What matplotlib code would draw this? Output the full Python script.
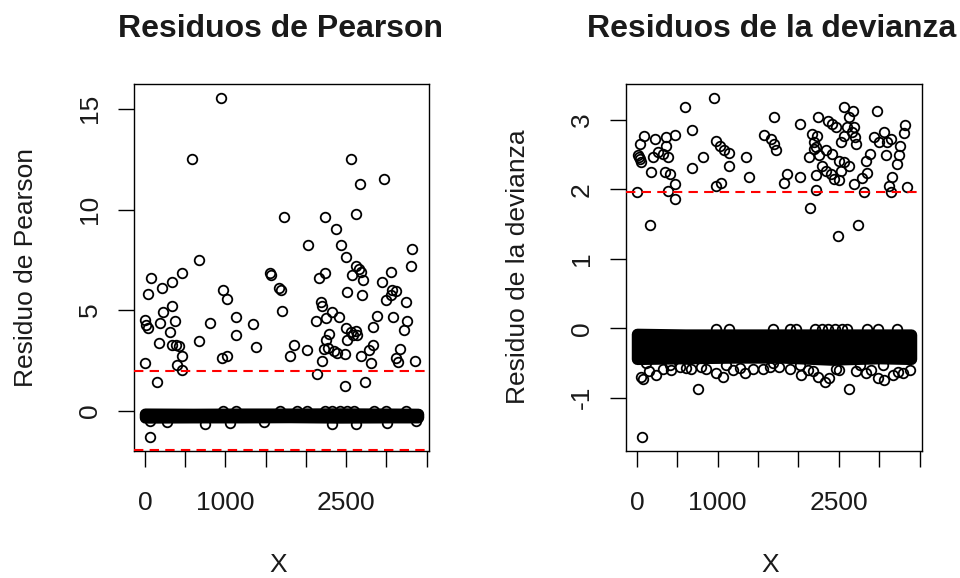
import numpy as np
import matplotlib as mpl
mpl.use('Agg')
import matplotlib.pyplot as plt

plt.rcParams['font.family'] = ['Liberation Sans', 'DejaVu Sans']

# ---- data ----
# Pearson residuals: points outside the dense band (observation index, residual)
pear_x = [942, 587, 2566, 2975, 2674, 2624, 1723, 2240, 2380, 2029, 2434, 3322, 674, 2496,
          2620, 2661, 3302, 3054, 2570, 2682, 2711, 1554, 1566, 459, 74, 343, 2240, 2165,
          2950, 211, 967, 1665, 1690, 2517, 2702, 3074, 3116, 3054, 3000, 45, 1025, 3240,
          2186, 2207, 343, 1698, 2322, 231, 1132, 2413, 2888, 3087, 2248, 2132, 3252, 5,
          17, 45, 376, 190, 810, 1347, 2835, 3219, 2496, 2558, 2620, 2587, 2632, 2517, 314,
          1132, 2289, 674, 182, 335, 384, 426, 1380, 1855, 2839, 2785, 2248, 2227, 2281,
          2351, 2393, 2021, 3165, 1802, 2488, 2682, 459, 963, 1025, 2207, 3116, 3145, 2806,
          3351, 8, 397, 459, 2136, 149, 2731, 2488, 58]
pear_y = [15.56, 12.50, 12.50, 11.52, 11.29, 9.77, 9.65, 9.65, 9.01, 8.25, 8.25, 8.03, 7.50, 7.63,
          7.20, 7.04, 7.17, 6.92, 6.75, 6.92, 6.51, 6.84, 6.75, 6.84, 6.62, 6.39, 6.84, 6.62,
          6.42, 6.09, 6.01, 6.09, 6.01, 5.88, 5.76, 6.01, 5.93, 5.76, 5.51, 5.79, 5.55, 5.43,
          5.43, 5.22, 5.23, 4.98, 4.93, 4.90, 4.65, 4.65, 4.69, 4.65, 4.60, 4.47, 4.47, 4.52,
          4.27, 4.11, 4.47, 4.35, 4.35, 4.32, 4.14, 4.02, 4.11, 3.94, 3.99, 3.77, 3.77, 3.53, 3.91,
          3.77, 3.81, 3.49, 3.36, 3.28, 3.28, 3.23, 3.16, 3.28, 3.28, 3.03, 3.53, 3.06, 3.11,
          2.95, 2.86, 3.03, 3.06, 2.70, 2.81, 2.73, 2.70, 2.62, 2.70, 2.50, 2.62, 2.45, 2.40,
          2.50, 2.40, 2.28, 2.04, 1.84, 1.41, 1.41, 1.21, -1.32]
# points sticking out of the band (above / below)
pear_edge_x = [968, 1130, 1678, 1889, 2013, 2240, 2330, 2420, 2510, 2600, 2848, 2998, 3248,
               67, 270, 752, 1063, 1478, 2325, 2620, 3010, 3367]
pear_edge_y = [0.0, 0.0, 0.0, 0.0, 0.0, 0.0, 0.0, 0.0, 0.0, 0.0, 0.0, 0.0, 0.0,
               -0.52, -0.53, -0.66, -0.60, -0.53, -0.66, -0.66, -0.60, -0.50]

# deviance residuals: points outside the dense band
dev_x = [949, 598, 681, 83, 219, 355, 466, 41, 363, 260, 198, 322, 384, 177, 343, 404, 466,
         384, 466, 5, 165, 10, 22, 34, 46, 817, 681, 974, 1032, 1085, 1139, 1139, 1354, 1387,
         982, 1036, 1568, 1663, 1704, 1725, 1704, 2026, 2245, 2571, 2679, 2625, 2976, 3326,
         3306, 2369, 2418, 2460, 2171, 2233, 2192, 2212, 2604, 2666, 2707, 2716, 2522, 2563,
         2934, 2996, 3066, 3099, 3141, 3256, 3244, 3223, 3079, 2893, 2839, 2852, 2790, 3161,
         2687, 2811, 3120, 3141, 3347, 1861, 1820, 2026, 2212, 2138, 2736, 2493, 2130, 2253,
         2192, 2336, 2418, 2501, 2563, 2625, 2295, 2336, 2398, 2439, 2501, 2522, 2212, 2687,
         74, 763, 2621, 58]
dev_y = [3.32, 3.19, 2.85, 2.77, 2.73, 2.75, 2.78, 2.65, 2.63, 2.53, 2.46, 2.51, 2.46, 2.25, 2.25,
         2.22, 2.08, 1.97, 1.86, 1.96, 1.49, 2.49, 2.46, 2.43, 2.40, 2.47, 2.31, 2.69, 2.63, 2.57,
         2.52, 2.34, 2.46, 2.18, 2.05, 2.09, 2.78, 2.73, 2.65, 2.56, 3.04, 2.94, 3.04, 3.19, 3.13,
         3.04, 3.13, 2.92, 2.81, 2.98, 2.94, 2.90, 2.80, 2.77, 2.68, 2.61, 2.89, 2.82, 2.75, 2.65,
         2.68, 2.77, 2.75, 2.68, 2.82, 2.68, 2.73, 2.63, 2.49, 2.37, 2.50, 2.51, 2.41, 2.23, 2.17,
         2.18, 2.08, 1.96, 2.05, 1.96, 2.03, 2.22, 2.09, 2.18, 1.99, 1.73, 1.49, 1.33, 2.46, 2.49,
         2.58, 2.56, 2.51, 2.41, 2.39, 2.34, 2.34, 2.27, 2.22, 2.15, 2.13, 2.26, 2.20, 2.89,
         -0.73, -0.88, -0.88, -1.57]
dev_edge_x = [981, 1146, 1683, 1897, 1972, 2207, 2290, 2372, 2455, 2537, 2599, 2847, 2990, 3218,
              54, 239, 322, 528, 673, 858, 982, 1065, 1189, 1333, 1436, 1560, 1766, 1890, 2035,
              2117, 2241, 2324, 2385, 2509, 2716, 2839, 2984, 3066, 3170, 3293, 3376, 115, 404,
              1106, 1684, 2014, 2757, 3046, 150, 420, 610, 790, 1280, 1650, 2180, 2470, 2900,
              3230]
dev_edge_y = [-0.01, -0.01, -0.01, -0.01, -0.01, -0.01, -0.01, -0.01, -0.01, -0.01, -0.01, -0.01,
              -0.01, -0.01,
              -0.70, -0.67, -0.58, -0.55, -0.58, -0.58, -0.65, -0.70, -0.60, -0.65, -0.58, -0.58,
              -0.55, -0.58, -0.67, -0.60, -0.70, -0.77, -0.72, -0.60, -0.62, -0.65, -0.72, -0.74,
              -0.67, -0.65, -0.60, -0.50, -0.53, -0.53, -0.50, -0.53, -0.53, -0.53, -0.62, -0.60,
              -0.57, -0.56, -0.57, -0.55, -0.62, -0.58, -0.60, -0.63]

# the dense band of y = 0 observations: outline of the point centres
band_x = [1, 600, 1200, 1800, 2400, 3000, 3395]
pear_band_top = [-0.14, -0.15, -0.14, -0.14, -0.13, -0.14, -0.15]
pear_band_bot = [-0.33, -0.32, -0.32, -0.31, -0.33, -0.32, -0.32]
dev_band_top = [-0.08, -0.09, -0.09, -0.09, -0.09, -0.09, -0.09]
dev_band_bot = [-0.44, -0.43, -0.42, -0.42, -0.45, -0.43, -0.44]

x_ticks = [0, 500, 1000, 1500, 2000, 2500, 3000, 3500]
x_labels = ['0', '', '1000', '', '', '2500', '', '']


def draw_panel(ax, px, py, ex, ey, top, bot, hlines, yticks):
    ax.fill_between(band_x, bot, top, facecolor='black', edgecolor='black',
                    linewidth=8.2, joinstyle='round')
    ax.plot(px, py, 'o', mfc='none', mec='black', ms=6.9, mew=1.3)
    ax.plot(ex, ey, 'o', mfc='none', mec='black', ms=6.9, mew=1.3)
    for h in hlines:
        ax.axhline(h, color='red', lw=1.5, dashes=(4.5, 3), zorder=5)
    xs = px + ex + band_x
    ys = py + ey + top + bot
    dx = 0.04 * (max(xs) - min(xs))
    dy = 0.04 * (max(ys) - min(ys))
    ax.set_xlim(min(xs) - dx, max(xs) + dx)
    ax.set_ylim(min(ys) - dy, max(ys) + dy)
    ax.set_xticks(x_ticks)
    ax.set_xticklabels(x_labels)
    ax.set_yticks(yticks)
    ax.set_yticklabels([str(t) for t in yticks], rotation=90, va='center')
    ax.tick_params(axis='both', direction='out', length=11.5, width=1, labelsize=19,
                   color='black', labelcolor='#1a1a1a')
    ax.tick_params(axis='x', pad=17)
    ax.tick_params(axis='y', pad=11.5)
    for s in ax.spines.values():
        s.set_linewidth(1)


fig = plt.figure(figsize=(9.6, 5.78), dpi=100)
ax1 = fig.add_axes([134 / 960, 127 / 578, 295 / 960, 367 / 578])
ax2 = fig.add_axes([626 / 960, 127 / 578, 296 / 960, 367 / 578])

draw_panel(ax1, pear_x, pear_y, pear_edge_x, pear_edge_y, pear_band_top, pear_band_bot,
           [1.96, -1.96], [0, 5, 10, 15])
draw_panel(ax2, dev_x, dev_y, dev_edge_x, dev_edge_y, dev_band_top, dev_band_bot,
           [1.96], [-1, 0, 1, 2, 3])

# titles and axis labels, placed like R's base graphics
fig.text(281 / 960, 1 - 37 / 578, 'Residuos de Pearson', ha='center', va='baseline',
         fontsize=23, fontweight='bold', color='#1a1a1a')
fig.text(772 / 960, 1 - 37 / 578, 'Residuos de la devianza', ha='center', va='baseline',
         fontsize=23, fontweight='bold', color='#1a1a1a')
fig.text(278 / 960, 1 - 572 / 578, 'X', ha='center', va='baseline', fontsize=19,
         color='#1a1a1a')
fig.text(770 / 960, 1 - 572 / 578, 'X', ha='center', va='baseline', fontsize=19,
         color='#1a1a1a')
fig.text(33 / 960, 1 - 267 / 578, 'Residuo de Pearson', rotation=90, rotation_mode='anchor',
         ha='center', va='baseline', fontsize=19, color='#1a1a1a')
fig.text(525 / 960, 1 - 267 / 578, 'Residuo de la devianza', rotation=90, rotation_mode='anchor',
         ha='center', va='baseline', fontsize=19, color='#1a1a1a')

fig.savefig('out.png', dpi=100)
